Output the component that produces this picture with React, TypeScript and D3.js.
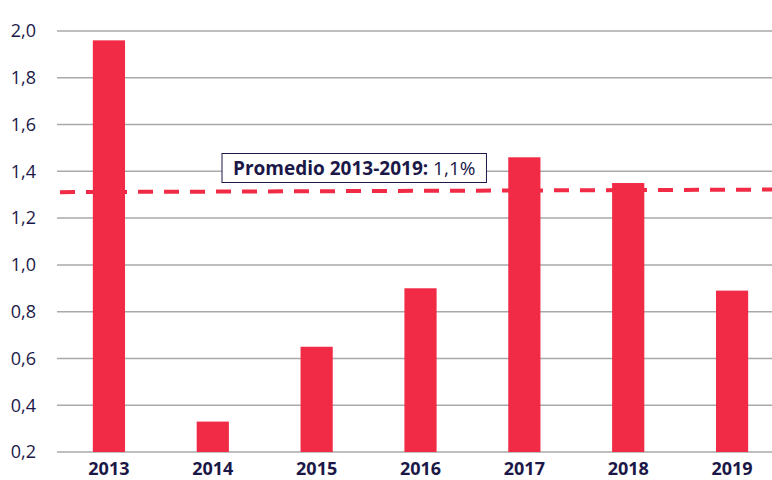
import { useEffect, useRef } from 'react';
import * as d3 from 'd3';

const years = ['2013', '2014', '2015', '2016', '2017', '2018', '2019'];
const values = [1.96, 0.33, 0.65, 0.9, 1.46, 1.35, 0.89];
const yTicks = [0.2, 0.4, 0.6, 0.8, 1.0, 1.2, 1.4, 1.6, 1.8, 2.0];
const avgLine = [1.311, 1.322];
const avgLabel = 'Promedio 2013-2019:';
const avgValue = '1,1%';

const W = 772;
const H = 480;
const BAR = '#f12a46';
const NAVY = '#1b1848';
const FONT = '"Open Sans", "Noto Sans", sans-serif';

export default function App() {
  const svgRef = useRef<SVGSVGElement>(null);

  useEffect(() => {
    if (!svgRef.current) return;
    const svg = d3.select(svgRef.current);
    svg.selectAll('*').remove();

    const left = 57;
    const right = 772;

    const y = d3.scaleLinear().domain([0.2, 2.0]).range([452, 31]);
    const x = d3.scaleBand<string>()
      .domain(years)
      .range([57, 784])
      .paddingInner(0.69)
      .paddingOuter(0.345);

    // grid
    svg.append('g')
      .selectAll('line')
      .data(yTicks)
      .join('line')
      .attr('x1', left)
      .attr('x2', right)
      .attr('y1', d => y(d))
      .attr('y2', d => y(d))
      .attr('stroke', '#a9a9a9')
      .attr('stroke-width', 1.5);

    // y labels
    svg.append('g')
      .selectAll('text')
      .data(yTicks)
      .join('text')
      .attr('x', 36)
      .attr('y', d => y(d))
      .attr('dy', '0.35em')
      .attr('text-anchor', 'end')
      .style('font-family', FONT)
      .style('font-size', '18px')
      .style('fill', NAVY)
      .text(d => d3.format('.1f')(d).replace('.', ','));

    // bars
    svg.append('g')
      .selectAll('rect')
      .data(values)
      .join('rect')
      .attr('x', (_, i) => x(years[i])!)
      .attr('width', x.bandwidth())
      .attr('y', d => y(d))
      .attr('height', d => y(0.2) - y(d))
      .attr('fill', BAR);

    // x labels
    svg.append('g')
      .selectAll('text')
      .data(years)
      .join('text')
      .attr('x', d => x(d)! + x.bandwidth() / 2)
      .attr('y', 475)
      .attr('text-anchor', 'middle')
      .style('font-family', FONT)
      .style('font-size', '18px')
      .style('font-weight', 700)
      .style('fill', NAVY)
      .text(d => d);

    // average dashed line
    const lx = d3.scaleLinear().domain([0, 1]).range([60, right]);
    svg.append('path')
      .datum(avgLine)
      .attr('d', d3.line<number>().x((_, i) => lx(i)).y(d => y(d)))
      .attr('fill', 'none')
      .attr('stroke', BAR)
      .attr('stroke-width', 4)
      .attr('stroke-dasharray', '15 11');

    // label box
    const g = svg.append('g');
    const txt = g.append('text')
      .attr('x', 233)
      .attr('y', 175)
      .style('font-family', FONT)
      .style('font-size', '19px')
      .style('fill', NAVY);
    txt.append('tspan').style('font-weight', 700).text(avgLabel);
    txt.append('tspan').text(' ' + avgValue);
    const bb = (txt.node() as SVGTextElement).getBBox();
    g.insert('rect', 'text')
      .attr('x', bb.x - 11)
      .attr('y', 153.5)
      .attr('width', bb.width + 22)
      .attr('height', 29)
      .attr('fill', '#fff')
      .attr('stroke', NAVY)
      .attr('stroke-width', 1);
  }, []);

  return (
    <div style={{ position: 'absolute', left: 0, top: 0, background: '#fff' }}>
      <svg ref={svgRef} width={W} height={H} />
    </div>
  );
}
